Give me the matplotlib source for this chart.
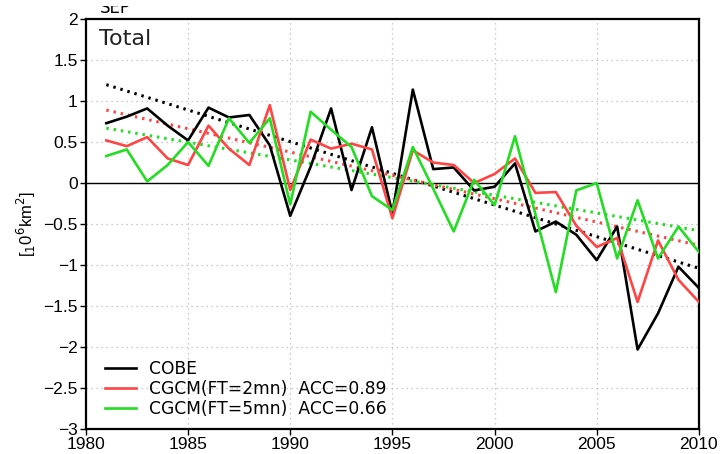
import numpy as np
import matplotlib
matplotlib.use("Agg")
import matplotlib.pyplot as plt
from matplotlib.transforms import Bbox

plt.rcParams['font.family'] = ['Liberation Sans', 'DejaVu Sans']

years = np.arange(1981, 2011)

cobe = [0.73, 0.81, 0.91, 0.70, 0.52, 0.92, 0.80, 0.83, 0.46, -0.40,
        0.20, 0.91, -0.085, 0.68, -0.37, 1.14, 0.17, 0.19, -0.09, -0.045,
        0.24, -0.59, -0.47, -0.63, -0.94, -0.53, -2.03, -1.59, -1.02, -1.28]
ft2 = [0.52, 0.45, 0.56, 0.30, 0.22, 0.70, 0.42, 0.22, 0.95, -0.085,
       0.53, 0.42, 0.48, 0.41, -0.43, 0.40, 0.25, 0.22, 0.0, 0.11,
       0.30, -0.12, -0.11, -0.52, -0.78, -0.67, -1.45, -0.70, -1.18, -1.45]
ft5 = [0.33, 0.41, 0.02, 0.22, 0.50, 0.21, 0.79, 0.49, 0.79, -0.26,
       0.87, 0.65, 0.44, -0.16, -0.33, 0.44, -0.07, -0.59, 0.04, -0.27,
       0.57, -0.38, -1.33, -0.09, 0.0, -0.92, -0.21, -0.92, -0.53, -0.84]

# linear trend lines as drawn (value at 1981, value at 2010)
trend_years = [1981, 2010]
cobe_trend = [1.20, -1.04]
ft2_trend = [0.89, -0.76]
ft5_trend = [0.67, -0.58]

labels = ['COBE', 'CGCM(FT=2mn)  ACC=0.89', 'CGCM(FT=5mn)  ACC=0.66']
colors = ['black', '#ff4444', '#22dd22']

xticks = [1980, 1985, 1990, 1995, 2000, 2005, 2010]
yticks = [2, 1.5, 1, 0.5, 0, -0.5, -1, -1.5, -2, -2.5, -3]
ytick_labels = ['2', '1.5', '1', '0.5', '0', '\u22120.5', '\u22121', '\u22121.5',
                '\u22122', '\u22122.5', '\u22123']

fig = plt.figure(figsize=(7.28, 4.54), dpi=100)
ax = fig.add_axes([0.118, 0.055, 0.842, 0.903])

for x in xticks[1:-1]:
    ax.axvline(x, color='#b8b8b8', lw=0.9, ls=(0, (1, 3)), zorder=0)
for y in yticks[1:-1]:
    ax.axhline(y, color='#b8b8b8', lw=0.9, ls=(0, (1, 3)), zorder=0)
ax.axhline(0, color='black', lw=1.0, zorder=1)

for series, trend, c, lab in zip([cobe, ft2, ft5], [cobe_trend, ft2_trend, ft5_trend],
                                 colors, labels):
    ax.plot(years, series, color=c, lw=1.9, label=lab, zorder=3)
    ax.plot(trend_years, trend, color=c, lw=2.2, ls=(0, (0.8, 1.6)), zorder=2)

ax.set_xlim(1980, 2010)
ax.set_ylim(-3, 2)
ax.set_xticks(xticks)
ax.set_yticks(yticks)
ax.set_yticklabels(ytick_labels)
ax.tick_params(labelsize=12.5, length=4, width=1, direction='out', pad=2)
for s in ax.spines.values():
    s.set_linewidth(1.6)

ax.set_ylabel(r'[$_{1}$0$^{6}$km$^{2}$]', fontsize=12, labelpad=4)
ax.text(0.022, 0.975, 'Total', transform=ax.transAxes, fontsize=16,
        family='DejaVu Sans', ha='left', va='top', color='#222222')

# panel title, mostly cut off at the top edge as in the source figure
t = fig.text(0.137, 1 - 13 / 454, 'SEP', fontsize=12, family='DejaVu Sans',
             ha='left', va='baseline')
t.set_clip_box(Bbox.from_extents(0, 454 - 14, 728, 454 - 6))

leg = ax.legend(loc='lower left', bbox_to_anchor=(0.013, 0.0), frameon=False,
                prop={'family': 'DejaVu Sans', 'size': 12.3},
                handlelength=1.8, handletextpad=0.75,
                labelspacing=0.12, borderaxespad=0.25)

fig.savefig('out.png', dpi=100)
